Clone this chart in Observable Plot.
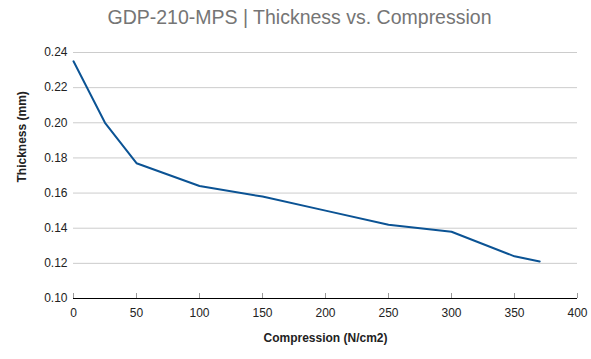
<!DOCTYPE html>
<html>
<head>
<meta charset="utf-8">
<script src="https://cdn.jsdelivr.net/npm/d3@7"></script>
<script src="https://cdn.jsdelivr.net/npm/@observablehq/plot@0.6"></script>
<style>
  html, body { margin: 0; padding: 0; background: #fff; }
  #title { height: 40px; width: 591px; box-sizing: border-box; padding-left: 8px; text-align: center; font-family: "Liberation Sans", Arial, sans-serif; font-size: 19.5px; color: #757575; line-height: 35px; white-space: nowrap; }
  svg { font-family: "Liberation Sans", Arial, sans-serif; }
</style>
</head>
<body>
<div id="title">GDP-210-MPS | Thickness vs. Compression</div>
<div id="chart"></div>
<script>
const compression = [0, 25, 50, 100, 150, 200, 250, 300, 350, 370];
const thickness = [0.235, 0.200, 0.177, 0.164, 0.158, 0.150, 0.142, 0.138, 0.124, 0.121];
const xTicks = [0, 50, 100, 150, 200, 250, 300, 350, 400];
const yTicks = [0.10, 0.12, 0.14, 0.16, 0.18, 0.20, 0.22, 0.24];
const xTitle = "Compression (N/cm2)";
const yTitle = "Thickness (mm)";

const data = compression.map((c, i) => ({c, t: thickness[i]}));

const chart = Plot.plot({
  width: 591,
  height: 319,
  marginLeft: 73,
  marginRight: 14,
  marginTop: 12,
  marginBottom: 61,
  style: {fontSize: "12px", color: "#222", background: "#fff"},
  x: {domain: [0, 400]},
  y: {domain: [0.10, 0.24]},
  marks: [
    Plot.gridY(yTicks.slice(1), {stroke: "#cccccc", strokeOpacity: 1}),
    Plot.axisY({ticks: yTicks, tickSize: 0, tickPadding: 6, tickFormat: d3.format(".2f"), label: null}),
    Plot.axisX({ticks: xTicks, tickSize: -5, tickFormat: () => "", stroke: "#999", label: null}),
    Plot.axisX({ticks: xTicks, tickSize: 0, tickPadding: 10, tickFormat: d3.format("d"), label: null}),
    Plot.text([yTitle], {text: d => d, frameAnchor: "left", rotate: -90, dx: -51, dy: 7, fontWeight: "bold", fontSize: 12, fill: "#222"}),
    Plot.text([xTitle], {text: d => d, frameAnchor: "bottom", dy: 43, fontWeight: "bold", fontSize: 12, fill: "#222"}),
    Plot.ruleY([0.10], {stroke: "#000"}),
    Plot.line(data, {x: "c", y: "t", stroke: "#0b5394", strokeWidth: 2})
  ]
});
document.getElementById("chart").appendChild(chart);
</script>
</body>
</html>
